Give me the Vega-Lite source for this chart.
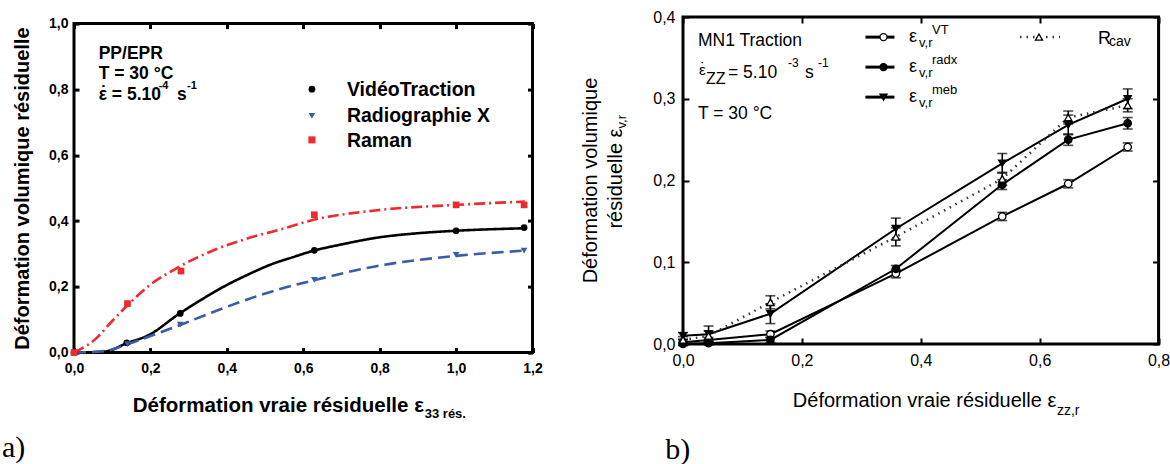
{
  "$schema": "https://vega.github.io/schema/vega-lite/v6.json",
  "padding": 0,
  "background": "white",
  "spacing": 35,
  "resolve": {"scale": {"color": "independent", "shape": "independent", "fill": "independent", "strokeDash": "independent"}},
  "config": {"font": "Liberation Sans", "view": {"stroke": "black", "strokeWidth": 3}},
  "datasets": {
    "one": [{}],
    "left": [
      {"s": "VidéoTraction", "x": 0, "y": 0},
      {"s": "VidéoTraction", "x": 0.138, "y": 0.03},
      {"s": "VidéoTraction", "x": 0.278, "y": 0.119},
      {"s": "VidéoTraction", "x": 0.629, "y": 0.311},
      {"s": "VidéoTraction", "x": 1.0, "y": 0.37},
      {"s": "VidéoTraction", "x": 1.178, "y": 0.38},
      {"s": "Radiographie X", "x": 0, "y": 0},
      {"s": "Radiographie X", "x": 0.14, "y": 0.026},
      {"s": "Radiographie X", "x": 0.278, "y": 0.085},
      {"s": "Radiographie X", "x": 0.629, "y": 0.221},
      {"s": "Radiographie X", "x": 1.0, "y": 0.297},
      {"s": "Radiographie X", "x": 1.178, "y": 0.31},
      {"s": "Raman", "x": 0, "y": 0},
      {"s": "Raman", "x": 0.14, "y": 0.149},
      {"s": "Raman", "x": 0.28, "y": 0.248},
      {"s": "Raman", "x": 0.629, "y": 0.419},
      {"s": "Raman", "x": 1.0, "y": 0.449},
      {"s": "Raman", "x": 1.178, "y": 0.449}
    ],
    "leftfit": [
      {"s": "VidéoTraction", "x": 0, "y": 0},
      {"s": "VidéoTraction", "x": 0.08, "y": 0.003},
      {"s": "VidéoTraction", "x": 0.139, "y": 0.029},
      {"s": "VidéoTraction", "x": 0.195, "y": 0.053},
      {"s": "VidéoTraction", "x": 0.274, "y": 0.117},
      {"s": "VidéoTraction", "x": 0.335, "y": 0.162},
      {"s": "VidéoTraction", "x": 0.396, "y": 0.203},
      {"s": "VidéoTraction", "x": 0.457, "y": 0.238},
      {"s": "VidéoTraction", "x": 0.518, "y": 0.269},
      {"s": "VidéoTraction", "x": 0.57, "y": 0.289},
      {"s": "VidéoTraction", "x": 0.625, "y": 0.309},
      {"s": "VidéoTraction", "x": 0.701, "y": 0.329},
      {"s": "VidéoTraction", "x": 0.797, "y": 0.35},
      {"s": "VidéoTraction", "x": 0.902, "y": 0.363},
      {"s": "VidéoTraction", "x": 0.994, "y": 0.37},
      {"s": "VidéoTraction", "x": 1.18, "y": 0.378},
      {"s": "Radiographie X", "x": 0, "y": 0},
      {"s": "Radiographie X", "x": 0.082, "y": 0.005},
      {"s": "Radiographie X", "x": 0.139, "y": 0.025},
      {"s": "Radiographie X", "x": 0.213, "y": 0.056},
      {"s": "Radiographie X", "x": 0.278, "y": 0.084},
      {"s": "Radiographie X", "x": 0.361, "y": 0.122},
      {"s": "Radiographie X", "x": 0.457, "y": 0.163},
      {"s": "Radiographie X", "x": 0.544, "y": 0.195},
      {"s": "Radiographie X", "x": 0.625, "y": 0.219},
      {"s": "Radiographie X", "x": 0.788, "y": 0.262},
      {"s": "Radiographie X", "x": 1.0, "y": 0.294},
      {"s": "Radiographie X", "x": 1.18, "y": 0.31},
      {"s": "Raman", "x": 0, "y": 0},
      {"s": "Raman", "x": 0.056, "y": 0.041},
      {"s": "Raman", "x": 0.1, "y": 0.096},
      {"s": "Raman", "x": 0.143, "y": 0.147},
      {"s": "Raman", "x": 0.196, "y": 0.203},
      {"s": "Raman", "x": 0.274, "y": 0.26},
      {"s": "Raman", "x": 0.361, "y": 0.309},
      {"s": "Raman", "x": 0.457, "y": 0.348},
      {"s": "Raman", "x": 0.536, "y": 0.373},
      {"s": "Raman", "x": 0.625, "y": 0.403},
      {"s": "Raman", "x": 0.788, "y": 0.432},
      {"s": "Raman", "x": 1.0, "y": 0.449},
      {"s": "Raman", "x": 1.18, "y": 0.459}
    ],
    "right": [
      {"s": "VT", "x": 0, "y": 0.002, "e": 0.003},
      {"s": "VT", "x": 0.043, "y": 0.005, "e": 0.003},
      {"s": "VT", "x": 0.147, "y": 0.012, "e": 0.004},
      {"s": "VT", "x": 0.358, "y": 0.086, "e": 0.005},
      {"s": "VT", "x": 0.537, "y": 0.156, "e": 0.005},
      {"s": "VT", "x": 0.648, "y": 0.196, "e": 0.005},
      {"s": "VT", "x": 0.748, "y": 0.241, "e": 0.005},
      {"s": "radx", "x": 0, "y": 0.0, "e": 0.002},
      {"s": "radx", "x": 0.043, "y": 0.001, "e": 0.002},
      {"s": "radx", "x": 0.147, "y": 0.005, "e": 0.003},
      {"s": "radx", "x": 0.358, "y": 0.092, "e": 0.004},
      {"s": "radx", "x": 0.537, "y": 0.195, "e": 0.006},
      {"s": "radx", "x": 0.648, "y": 0.25, "e": 0.007},
      {"s": "radx", "x": 0.748, "y": 0.27, "e": 0.007},
      {"s": "meb", "x": 0, "y": 0.01, "e": 0.004},
      {"s": "meb", "x": 0.043, "y": 0.012, "e": 0.01},
      {"s": "meb", "x": 0.147, "y": 0.037, "e": 0.012},
      {"s": "meb", "x": 0.358, "y": 0.141, "e": 0.013},
      {"s": "meb", "x": 0.537, "y": 0.221, "e": 0.012},
      {"s": "meb", "x": 0.648, "y": 0.268, "e": 0.012},
      {"s": "meb", "x": 0.748, "y": 0.3, "e": 0.012},
      {"s": "Rcav", "x": 0, "y": 0.005, "e": 0.004},
      {"s": "Rcav", "x": 0.043, "y": 0.01, "e": 0.006},
      {"s": "Rcav", "x": 0.147, "y": 0.051, "e": 0.008},
      {"s": "Rcav", "x": 0.358, "y": 0.131, "e": 0.011},
      {"s": "Rcav", "x": 0.537, "y": 0.202, "e": 0.008},
      {"s": "Rcav", "x": 0.648, "y": 0.277, "e": 0.008},
      {"s": "Rcav", "x": 0.748, "y": 0.292, "e": 0.008}
    ]
  },
  "hconcat": [
    {
      "spacing": -6.4,
      "vconcat": [
        {
          "width": 10,
          "height": 1,
          "view": {"stroke": null},
          "data": {"name": "one"},
          "mark": {"type": "point", "size": 0, "opacity": 0},
          "encoding": {}
        },
        {
          "width": 458.5,
          "height": 329,
          "view": {"stroke": "black", "strokeWidth": 3},
          "resolve": {"axis": {"x": "independent", "y": "independent"}},
          "layer": [
            {
              "data": {"name": "leftfit"},
              "mark": {"type": "line", "interpolate": "monotone", "strokeWidth": 2.6},
              "encoding": {
                "x": {"field": "x", "type": "quantitative", "scale": {"domain": [0, 1.2], "nice": false, "zero": false},
                  "axis": {"orient": "bottom", "values": [0, 0.2, 0.4, 0.6, 0.8, 1.0, 1.2], "labelExpr": "replace(format(datum.value, '.1f'), '.', ',')", "title": null, "domain": false, "grid": false, "ticks": true, "tickSize": -5, "tickWidth": 3, "tickColor": "black", "labelFont": "Liberation Sans", "labelFontWeight": "bold", "labelFontSize": 14, "labelColor": "black", "labelPadding": 13.5, "labelFlush": false, "labelOverlap": false}},
                "y": {"field": "y", "type": "quantitative", "scale": {"domain": [0, 1], "nice": false, "zero": false},
                  "axis": {"orient": "left", "values": [0, 0.2, 0.4, 0.6, 0.8, 1.0], "labelExpr": "replace(format(datum.value, '.1f'), '.', ',')", "title": "Déformation volumique résiduelle", "titleFont": "Liberation Sans", "titleFontWeight": "bold", "titleFontSize": 20, "titleColor": "black", "titlePadding": 16, "domain": false, "grid": false, "ticks": true, "tickSize": -5, "tickWidth": 3, "tickColor": "black", "labelFont": "Liberation Sans", "labelFontWeight": "bold", "labelFontSize": 14, "labelColor": "black", "labelPadding": 11, "labelFlush": false, "labelOverlap": false}},
                "color": {"field": "s", "type": "nominal", "scale": {"domain": ["VidéoTraction", "Radiographie X", "Raman"], "range": ["#000000", "#3a5ba8", "#ee2a2f"]}, "legend": null},
                "strokeDash": {"field": "s", "type": "nominal", "scale": {"domain": ["VidéoTraction", "Radiographie X", "Raman"], "range": [[1, 0], [12, 6], [11, 4, 2, 4]]}, "legend": null}
              }
            },
            {
              "data": {"name": "one"},
              "mark": {"type": "point", "opacity": 0},
              "encoding": {
                "x": {"datum": 0, "axis": {"orient": "top", "values": [0, 0.2, 0.4, 0.6, 0.8, 1.0, 1.2], "labels": false, "title": null, "domain": false, "grid": false, "tickSize": -5, "tickWidth": 3, "tickColor": "black", "minExtent": 10, "maxExtent": 10}},
                "y": {"datum": 0, "axis": {"orient": "right", "values": [0, 0.2, 0.4, 0.6, 0.8, 1.0], "labels": false, "title": null, "domain": false, "grid": false, "tickSize": -5, "tickWidth": 3, "tickColor": "black", "minExtent": 0, "maxExtent": 0}}
              }
            },
            {
              "data": {"name": "left"},
              "mark": {"type": "point", "filled": true, "size": 45, "opacity": 1},
              "encoding": {
                "x": {"field": "x", "type": "quantitative", "axis": null},
                "y": {"field": "y", "type": "quantitative", "axis": null},
                "color": {"field": "s", "type": "nominal", "legend": null},
                "shape": {"field": "s", "type": "nominal", "scale": {"domain": ["VidéoTraction", "Radiographie X", "Raman"], "range": ["circle", "triangle-down", "square"]}, "legend": null}
              }
            },
            {"data": {"name": "one"}, "mark": {"type": "text", "text": "PP/EPR", "align": "left", "baseline": "alphabetic", "fontWeight": "bold", "fontSize": 17.5, "color": "black"}, "encoding": {"x": {"datum": 0.0646, "axis": null}, "y": {"datum": 0.8918, "axis": null}}},
            {"data": {"name": "one"}, "mark": {"type": "text", "text": "T = 30 °C", "align": "left", "baseline": "alphabetic", "fontWeight": "bold", "fontSize": 17.5, "color": "black"}, "encoding": {"x": {"datum": 0.0646, "axis": null}, "y": {"datum": 0.831, "axis": null}}},
            {"data": {"name": "one"}, "mark": {"type": "text", "text": "ε = 5.10", "align": "left", "baseline": "alphabetic", "fontWeight": "bold", "fontSize": 17.5, "color": "black"}, "encoding": {"x": {"datum": 0.0646, "axis": null}, "y": {"datum": 0.7672, "axis": null}}},
            {"data": {"name": "one"}, "mark": {"type": "text", "text": "˙", "align": "center", "baseline": "alphabetic", "fontWeight": "bold", "fontSize": 17.5, "color": "black"}, "encoding": {"x": {"datum": 0.0768, "axis": null}, "y": {"datum": 0.77, "axis": null}}},
            {"data": {"name": "one"}, "mark": {"type": "text", "text": "-4", "align": "left", "baseline": "alphabetic", "fontWeight": "bold", "fontSize": 11, "color": "black"}, "encoding": {"x": {"datum": 0.2216, "axis": null}, "y": {"datum": 0.802, "axis": null}}},
            {"data": {"name": "one"}, "mark": {"type": "text", "text": "s", "align": "left", "baseline": "alphabetic", "fontWeight": "bold", "fontSize": 17.5, "color": "black"}, "encoding": {"x": {"datum": 0.2695, "axis": null}, "y": {"datum": 0.7672, "axis": null}}},
            {"data": {"name": "one"}, "mark": {"type": "text", "text": "-1", "align": "left", "baseline": "alphabetic", "fontWeight": "bold", "fontSize": 11, "color": "black"}, "encoding": {"x": {"datum": 0.2957, "axis": null}, "y": {"datum": 0.802, "axis": null}}},
            {"data": {"name": "one"}, "mark": {"type": "point", "shape": "circle", "filled": true, "color": "#000000", "size": 45, "opacity": 1}, "encoding": {"x": {"datum": 0.6227, "axis": null}, "y": {"datum": 0.8006, "axis": null}}},
            {"data": {"name": "one"}, "mark": {"type": "point", "shape": "triangle-down", "filled": true, "color": "#3a5ba8", "size": 45, "opacity": 1}, "encoding": {"x": {"datum": 0.6227, "axis": null}, "y": {"datum": 0.7195, "axis": null}}},
            {"data": {"name": "one"}, "mark": {"type": "point", "shape": "square", "filled": true, "color": "#ee2a2f", "size": 50, "opacity": 1}, "encoding": {"x": {"datum": 0.6227, "axis": null}, "y": {"datum": 0.6465, "axis": null}}},
            {"data": {"name": "one"}, "mark": {"type": "text", "text": "VidéoTraction", "align": "left", "baseline": "alphabetic", "fontWeight": "bold", "fontSize": 19.5, "color": "black"}, "encoding": {"x": {"datum": 0.7143, "axis": null}, "y": {"datum": 0.7802, "axis": null}}},
            {"data": {"name": "one"}, "mark": {"type": "text", "text": "Radiographie X", "align": "left", "baseline": "alphabetic", "fontWeight": "bold", "fontSize": 19.5, "color": "black"}, "encoding": {"x": {"datum": 0.7143, "axis": null}, "y": {"datum": 0.7012, "axis": null}}},
            {"data": {"name": "one"}, "mark": {"type": "text", "text": "Raman", "align": "left", "baseline": "alphabetic", "fontWeight": "bold", "fontSize": 19.5, "color": "black"}, "encoding": {"x": {"datum": 0.7143, "axis": null}, "y": {"datum": 0.6252, "axis": null}}},
            {"data": {"name": "one"}, "mark": {"type": "text", "text": "Déformation vraie résiduelle ε", "align": "right", "baseline": "alphabetic", "fontWeight": "bold", "fontSize": 20.5, "color": "black"}, "encoding": {"x": {"datum": 0.9157, "axis": null}, "y": {"datum": -0.1793, "axis": null}}},
            {"data": {"name": "one"}, "mark": {"type": "text", "text": "33 rés.", "align": "left", "baseline": "alphabetic", "fontWeight": "bold", "fontSize": 13, "color": "black"}, "encoding": {"x": {"datum": 0.918, "axis": null}, "y": {"datum": -0.1976, "axis": null}}},
            {"data": {"name": "one"}, "mark": {"type": "text", "text": "a)", "align": "left", "baseline": "alphabetic", "font": "Liberation Serif", "fontSize": 30, "color": "black"}, "encoding": {"x": {"datum": -0.1884, "axis": null}, "y": {"datum": -0.318, "axis": null}}}
          ]
        }
      ]
    },
    {
      "width": 475.6,
      "height": 327,
      "view": {"stroke": "black", "strokeWidth": 3},
      "resolve": {"axis": {"x": "independent", "y": "independent"}},
      "layer": [
        {
          "data": {"name": "right"},
          "transform": [{"filter": "datum.s !== 'Rcav'"}],
          "mark": {"type": "line", "strokeWidth": 2, "color": "black"},
          "encoding": {
            "x": {"field": "x", "type": "quantitative", "scale": {"domain": [0, 0.8], "nice": false, "zero": false},
              "axis": {"orient": "bottom", "values": [0, 0.2, 0.4, 0.6, 0.8], "labelExpr": "replace(format(datum.value, '.1f'), '.', ',')", "title": null, "domain": false, "grid": false, "tickSize": -6, "tickWidth": 2, "tickColor": "black", "labelFont": "Liberation Sans", "labelFontSize": 16, "labelColor": "black", "labelPadding": 14.5, "labelFlush": false, "labelOverlap": false}},
            "y": {"field": "y", "type": "quantitative", "scale": {"domain": [0, 0.4], "nice": false, "zero": false},
              "axis": {"orient": "left", "values": [0, 0.1, 0.2, 0.3, 0.4], "labelExpr": "replace(format(datum.value, '.1f'), '.', ',')", "title": null, "domain": false, "grid": false, "tickSize": -6, "tickWidth": 2, "tickColor": "black", "labelFont": "Liberation Sans", "labelFontSize": 16, "labelColor": "black", "labelPadding": 14, "labelFlush": false, "labelOverlap": false}},
            "detail": {"field": "s", "type": "nominal"}
          }
        },
        {
          "data": {"name": "one"},
          "mark": {"type": "point", "opacity": 0},
          "encoding": {
            "x": {"datum": 0, "axis": {"orient": "top", "values": [0, 0.2, 0.4, 0.6, 0.8], "labels": false, "title": null, "domain": false, "grid": false, "tickSize": -6, "tickWidth": 2, "tickColor": "black", "minExtent": 14.8, "maxExtent": 14.8}},
            "y": {"datum": 0, "axis": {"orient": "right", "values": [0, 0.1, 0.2, 0.3, 0.4], "labels": false, "title": null, "domain": false, "grid": false, "tickSize": -6, "tickWidth": 2, "tickColor": "black", "minExtent": 0, "maxExtent": 0}}
          }
        },
        {
          "data": {"name": "right"},
          "transform": [{"filter": "datum.s === 'Rcav'"}],
          "mark": {"type": "line", "strokeWidth": 2.5, "color": "#333333", "strokeDash": [1.5, 5]},
          "encoding": {
            "x": {"field": "x", "type": "quantitative", "axis": null},
            "y": {"field": "y", "type": "quantitative", "axis": null}
          }
        },
        {
          "data": {"name": "right"},
          "mark": {"type": "errorbar", "ticks": true, "size": 10, "thickness": 1.6, "color": "black"},
          "encoding": {
            "x": {"field": "x", "type": "quantitative", "axis": null},
            "y": {"field": "y", "type": "quantitative", "axis": null},
            "yError": {"field": "e"}
          }
        },
        {
          "data": {"name": "right"},
          "mark": {"type": "point", "filled": true, "stroke": "black", "strokeWidth": 1.3, "size": 55, "opacity": 1},
          "encoding": {
            "x": {"field": "x", "type": "quantitative", "axis": null},
            "y": {"field": "y", "type": "quantitative", "axis": null},
            "shape": {"field": "s", "type": "nominal", "scale": {"domain": ["VT", "radx", "meb", "Rcav"], "range": ["circle", "circle", "triangle-down", "triangle-up"]}, "legend": null},
            "fill": {"field": "s", "type": "nominal", "scale": {"domain": ["VT", "radx", "meb", "Rcav"], "range": ["#ffffff", "#000000", "#000000", "#ffffff"]}, "legend": null}
          }
        },
        {"data": {"name": "one"}, "mark": {"type": "text", "text": "MN1 Traction", "align": "left", "baseline": "alphabetic", "fontSize": 17.5, "color": "black"}, "encoding": {"x": {"datum": 0.0252, "axis": null}, "y": {"datum": 0.3644, "axis": null}}},
        {"data": {"name": "one"}, "mark": {"type": "text", "text": "ε", "align": "left", "baseline": "alphabetic", "fontSize": 15, "color": "black"}, "encoding": {"x": {"datum": 0.0269, "axis": null}, "y": {"datum": 0.3285, "axis": null}}},
        {"data": {"name": "one"}, "mark": {"type": "text", "text": "˙", "align": "center", "baseline": "alphabetic", "fontSize": 15, "color": "black"}, "encoding": {"x": {"datum": 0.0336, "axis": null}, "y": {"datum": 0.331, "axis": null}}},
        {"data": {"name": "one"}, "mark": {"type": "text", "text": "ZZ", "align": "left", "baseline": "alphabetic", "fontSize": 16, "color": "black"}, "encoding": {"x": {"datum": 0.0387, "axis": null}, "y": {"datum": 0.3184, "axis": null}}},
        {"data": {"name": "one"}, "mark": {"type": "text", "text": "= 5.10", "align": "left", "baseline": "alphabetic", "fontSize": 17.5, "color": "black"}, "encoding": {"x": {"datum": 0.0757, "axis": null}, "y": {"datum": 0.3257, "axis": null}}},
        {"data": {"name": "one"}, "mark": {"type": "text", "text": "-3", "align": "left", "baseline": "alphabetic", "fontSize": 12, "color": "black"}, "encoding": {"x": {"datum": 0.1766, "axis": null}, "y": {"datum": 0.3387, "axis": null}}},
        {"data": {"name": "one"}, "mark": {"type": "text", "text": "s", "align": "left", "baseline": "alphabetic", "fontSize": 17.5, "color": "black"}, "encoding": {"x": {"datum": 0.2052, "axis": null}, "y": {"datum": 0.3257, "axis": null}}},
        {"data": {"name": "one"}, "mark": {"type": "text", "text": "-1", "align": "left", "baseline": "alphabetic", "fontSize": 12, "color": "black"}, "encoding": {"x": {"datum": 0.2271, "axis": null}, "y": {"datum": 0.3387, "axis": null}}},
        {"data": {"name": "one"}, "mark": {"type": "text", "text": "T = 30 °C", "align": "left", "baseline": "alphabetic", "fontSize": 17.5, "color": "black"}, "encoding": {"x": {"datum": 0.0252, "axis": null}, "y": {"datum": 0.2753, "axis": null}}},
        {"data": {"name": "one"}, "mark": {"type": "rule", "strokeWidth": 3, "color": "black"}, "encoding": {"x": {"datum": 0.3069, "axis": null}, "x2": {"datum": 0.3557}, "y": {"datum": 0.3754, "axis": null}}},
        {"data": {"name": "one"}, "mark": {"type": "rule", "strokeWidth": 3, "color": "black"}, "encoding": {"x": {"datum": 0.3069, "axis": null}, "x2": {"datum": 0.3557}, "y": {"datum": 0.3387, "axis": null}}},
        {"data": {"name": "one"}, "mark": {"type": "rule", "strokeWidth": 3, "color": "black"}, "encoding": {"x": {"datum": 0.3069, "axis": null}, "x2": {"datum": 0.3557}, "y": {"datum": 0.302, "axis": null}}},
        {"data": {"name": "one"}, "mark": {"type": "rule", "strokeWidth": 2.5, "color": "#333333", "strokeDash": [1.5, 5]}, "encoding": {"x": {"datum": 0.5669, "axis": null}, "x2": {"datum": 0.6341}, "y": {"datum": 0.3754, "axis": null}}},
        {"data": {"name": "one"}, "mark": {"type": "point", "shape": "circle", "filled": true, "fill": "#ffffff", "stroke": "black", "strokeWidth": 1.3, "size": 50, "opacity": 1}, "encoding": {"x": {"datum": 0.3373, "axis": null}, "y": {"datum": 0.3754, "axis": null}}},
        {"data": {"name": "one"}, "mark": {"type": "point", "shape": "circle", "filled": true, "fill": "#000000", "stroke": "black", "strokeWidth": 1.3, "size": 50, "opacity": 1}, "encoding": {"x": {"datum": 0.3373, "axis": null}, "y": {"datum": 0.3387, "axis": null}}},
        {"data": {"name": "one"}, "mark": {"type": "point", "shape": "triangle-down", "filled": true, "fill": "#000000", "stroke": "black", "strokeWidth": 1.3, "size": 50, "opacity": 1}, "encoding": {"x": {"datum": 0.3373, "axis": null}, "y": {"datum": 0.302, "axis": null}}},
        {"data": {"name": "one"}, "mark": {"type": "point", "shape": "triangle-up", "filled": true, "fill": "#ffffff", "stroke": "black", "strokeWidth": 1.3, "size": 50, "opacity": 1}, "encoding": {"x": {"datum": 0.5988, "axis": null}, "y": {"datum": 0.3754, "axis": null}}},
        {"data": {"name": "one"}, "mark": {"type": "text", "text": "ε", "align": "left", "baseline": "alphabetic", "fontSize": 18, "color": "black"}, "encoding": {"x": {"datum": 0.3801, "axis": null}, "y": {"datum": 0.3693, "axis": null}}},
        {"data": {"name": "one"}, "mark": {"type": "text", "text": "v,r", "align": "left", "baseline": "alphabetic", "fontSize": 13, "color": "black"}, "encoding": {"x": {"datum": 0.397, "axis": null}, "y": {"datum": 0.3632, "axis": null}}},
        {"data": {"name": "one"}, "mark": {"type": "text", "text": "VT", "align": "left", "baseline": "alphabetic", "fontSize": 13, "color": "black"}, "encoding": {"x": {"datum": 0.4188, "axis": null}, "y": {"datum": 0.3796, "axis": null}}},
        {"data": {"name": "one"}, "mark": {"type": "text", "text": "ε", "align": "left", "baseline": "alphabetic", "fontSize": 18, "color": "black"}, "encoding": {"x": {"datum": 0.3801, "axis": null}, "y": {"datum": 0.3326, "axis": null}}},
        {"data": {"name": "one"}, "mark": {"type": "text", "text": "v,r", "align": "left", "baseline": "alphabetic", "fontSize": 13, "color": "black"}, "encoding": {"x": {"datum": 0.397, "axis": null}, "y": {"datum": 0.3264, "axis": null}}},
        {"data": {"name": "one"}, "mark": {"type": "text", "text": "radx", "align": "left", "baseline": "alphabetic", "fontSize": 13, "color": "black"}, "encoding": {"x": {"datum": 0.4188, "axis": null}, "y": {"datum": 0.3428, "axis": null}}},
        {"data": {"name": "one"}, "mark": {"type": "text", "text": "ε", "align": "left", "baseline": "alphabetic", "fontSize": 18, "color": "black"}, "encoding": {"x": {"datum": 0.3801, "axis": null}, "y": {"datum": 0.2958, "axis": null}}},
        {"data": {"name": "one"}, "mark": {"type": "text", "text": "v,r", "align": "left", "baseline": "alphabetic", "fontSize": 13, "color": "black"}, "encoding": {"x": {"datum": 0.397, "axis": null}, "y": {"datum": 0.2897, "axis": null}}},
        {"data": {"name": "one"}, "mark": {"type": "text", "text": "meb", "align": "left", "baseline": "alphabetic", "fontSize": 13, "color": "black"}, "encoding": {"x": {"datum": 0.4188, "axis": null}, "y": {"datum": 0.3061, "axis": null}}},
        {"data": {"name": "one"}, "mark": {"type": "text", "text": "R", "align": "left", "baseline": "alphabetic", "fontSize": 18, "color": "black"}, "encoding": {"x": {"datum": 0.698, "axis": null}, "y": {"datum": 0.3673, "axis": null}}},
        {"data": {"name": "one"}, "mark": {"type": "text", "text": "cav", "align": "left", "baseline": "alphabetic", "fontSize": 14, "color": "black"}, "encoding": {"x": {"datum": 0.7166, "axis": null}, "y": {"datum": 0.365, "axis": null}}},
        {"data": {"name": "one"}, "mark": {"type": "text", "text": "Déformation vraie résiduelle ε", "align": "right", "baseline": "alphabetic", "fontSize": 20, "color": "black"}, "encoding": {"x": {"datum": 0.628, "axis": null}, "y": {"datum": -0.0775, "axis": null}}},
        {"data": {"name": "one"}, "mark": {"type": "text", "text": "zz,r", "align": "left", "baseline": "alphabetic", "fontSize": 14, "color": "black"}, "encoding": {"x": {"datum": 0.629, "axis": null}, "y": {"datum": -0.0864, "axis": null}}},
        {"data": {"name": "one"}, "mark": {"type": "text", "text": "Déformation volumique", "align": "center", "baseline": "middle", "angle": 270, "fontSize": 20, "color": "black"}, "encoding": {"x": {"datum": -0.1548, "axis": null}, "y": {"datum": 0.2, "axis": null}}},
        {"data": {"name": "one"}, "mark": {"type": "text", "text": "résiduelle ε", "align": "right", "baseline": "middle", "angle": 270, "fontSize": 20, "color": "black"}, "encoding": {"x": {"datum": -0.1127, "axis": null}, "y": {"datum": 0.2636, "axis": null}}},
        {"data": {"name": "one"}, "mark": {"type": "text", "text": "v,r", "align": "left", "baseline": "middle", "angle": 270, "fontSize": 13, "color": "black"}, "encoding": {"x": {"datum": -0.1026, "axis": null}, "y": {"datum": 0.2636, "axis": null}}},
        {"data": {"name": "one"}, "mark": {"type": "text", "text": "b)", "align": "left", "baseline": "alphabetic", "font": "Liberation Serif", "fontSize": 30, "color": "black"}, "encoding": {"x": {"datum": -0.0298, "axis": null}, "y": {"datum": -0.1406, "axis": null}}}
      ]
    }
  ]
}
